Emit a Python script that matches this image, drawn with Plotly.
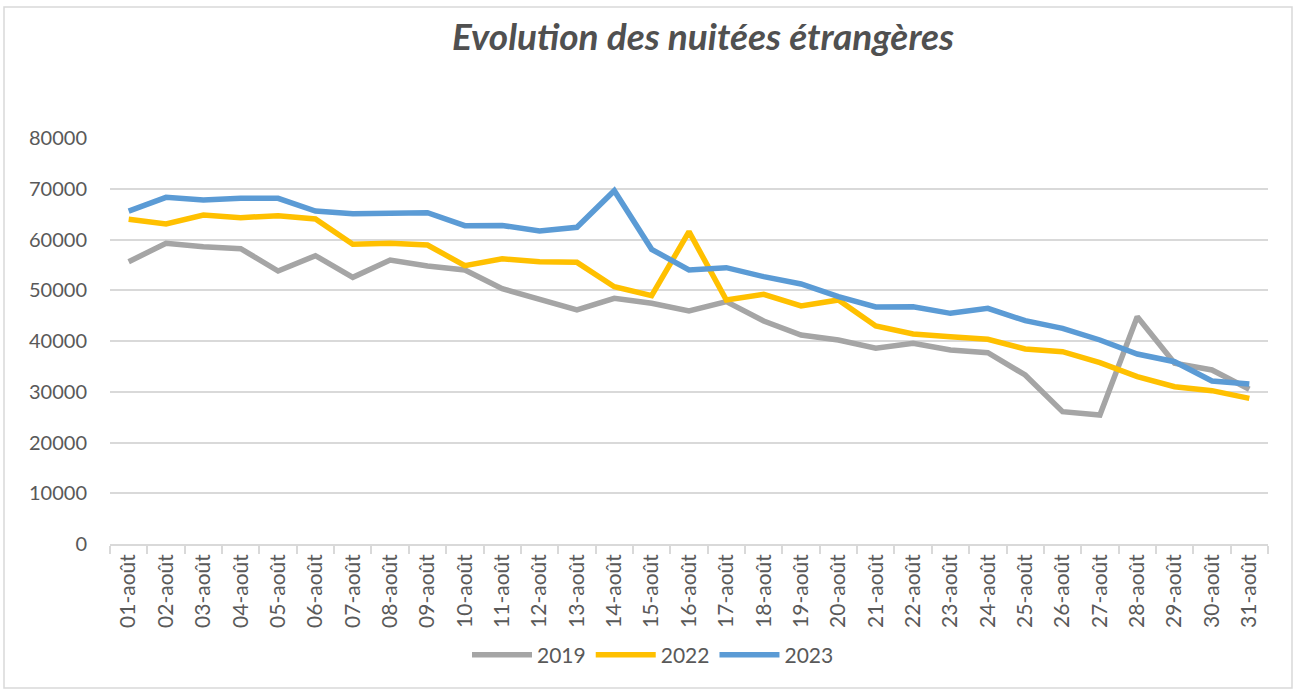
import plotly.graph_objects as go

days = [f"{d:02d}-août" for d in range(1, 32)]

v2019 = [55630, 59250, 58590, 58190, 53790, 56810, 52550, 55960, 54780, 53990,
         50300, 48280, 46110, 48410, 47430, 45910, 47750, 43940, 41180, 40200,
         38600, 39540, 38230, 37700, 33300, 26070, 25420, 44790, 35600, 34290, 30480]
v2022 = [64000, 63050, 64830, 64300, 64700, 64040, 59050, 59250, 58920, 54840,
         56200, 55630, 55500, 50700, 48930, 61540, 48080, 49200, 46900, 48080,
         42960, 41380, 40850, 40330, 38420, 37900, 35720, 32970, 31000, 30210, 28700]
v2023 = [65600, 68310, 67780, 68110, 68110, 65620, 65090, 65290, 65290, 62730,
         62760, 61670, 62400, 69620, 58060, 53990, 54450, 52680, 51230, 48730,
         46700, 46760, 45450, 46440, 44000, 42500, 40200, 37440, 35920, 32120, 31530]

series = [("2019", v2019, "#A5A5A5"), ("2022", v2022, "#FFC000"), ("2023", v2023, "#5B9BD5")]

fig = go.Figure()
for name, vals, col in series:
    fig.add_trace(go.Scatter(x=days, y=vals, name=name, mode="lines",
                             line=dict(color=col, width=5.5)))

W, H = 1298, 691
L, R, T, B = 110, 30, 138, 147
pw, ph = W - L - R, H - T - B

def px(x):
    return (x - L) / pw

def py(y):
    return (H - B - y) / ph

fig.add_shape(type="rect", xref="paper", yref="paper",
              x0=px(4), x1=px(1292), y0=py(688), y1=py(7),
              line=dict(color="#D9D9D9", width=1.5), fillcolor="rgba(0,0,0,0)", layer="below")

fig.update_layout(
    width=W, height=H,
    margin=dict(l=L, r=R, t=T, b=B),
    paper_bgcolor="white", plot_bgcolor="white",
    font=dict(family="Lato", color="#595959", size=20),
    title=dict(text="<b><i>Evolution des nuitées étrangères</i></b>",
               x=703 / W, xanchor="center", y=1 - 37 / H, yanchor="middle",
               font=dict(family="Lato", size=37, color="#505050")),
    showlegend=True,
    legend=dict(orientation="h", x=px(653), xanchor="center", y=py(655), yanchor="middle",
                font=dict(size=21, color="#595959"), itemwidth=60,
                bgcolor="rgba(0,0,0,0)"),
    xaxis=dict(type="category", tickson="boundaries", ticks="outside", ticklen=8,
               tickcolor="#D9D9D9", tickwidth=1.5, showline=True, linecolor="#D9D9D9",
               linewidth=1.5, showgrid=False, tickangle=-90,
               tickfont=dict(size=21, color="#595959"), range=[-0.5, 30.5]),
    yaxis=dict(range=[0, 80000], dtick=10000, showgrid=True, gridcolor="#D9D9D9",
               gridwidth=1.5, zeroline=False, showline=False, ticks="",
               tickformat="d", ticklabelstandoff=22,
               tickfont=dict(size=20, color="#595959")),
)

fig.write_html("out.html", config={"displayModeBar": False},
               post_script="document.body.style.margin='0';")
